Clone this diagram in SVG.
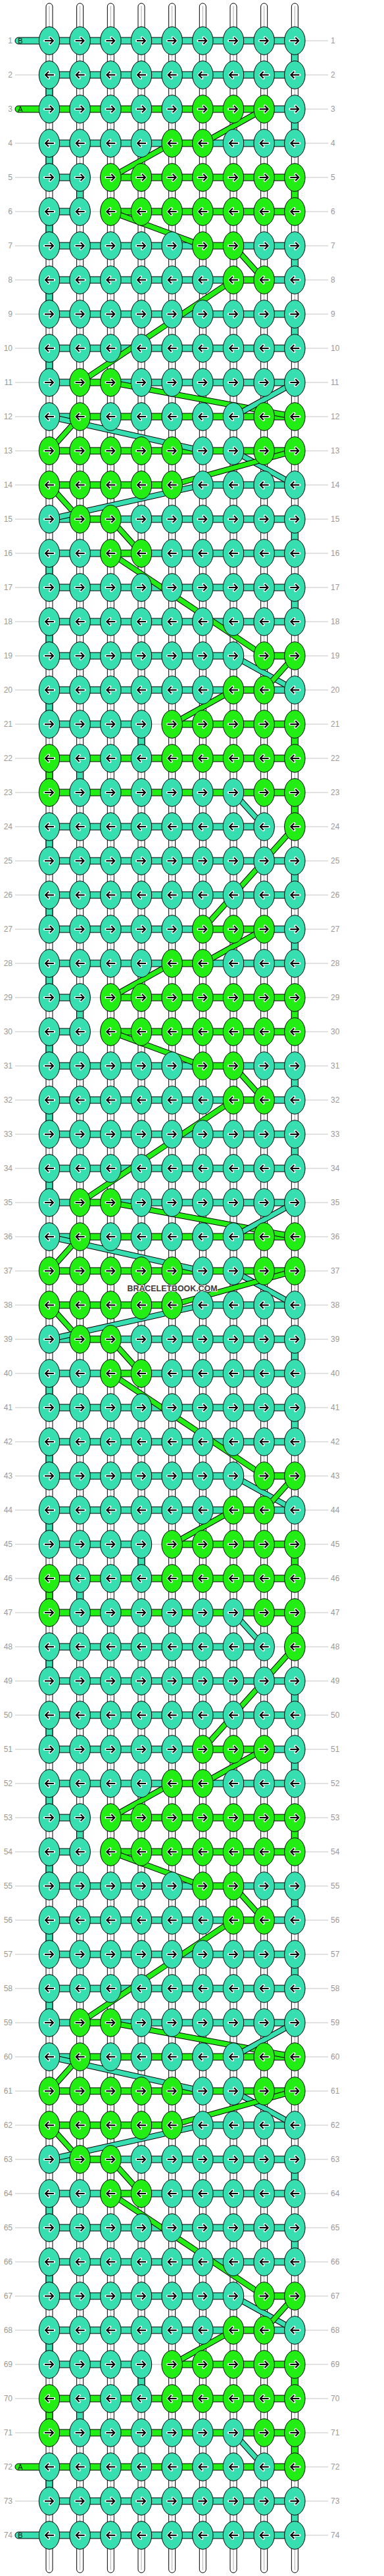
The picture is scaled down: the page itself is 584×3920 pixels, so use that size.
<svg xmlns="http://www.w3.org/2000/svg" width="584" height="3920" viewBox="0 0 584 3920">
<defs>
<style>
.n{font-family:"Liberation Sans",Arial,sans-serif;font-size:12px;fill:#999}
.e{text-anchor:end}
.gl{stroke:#c4c4c4;stroke-width:1;fill:none}
.t{fill:#36DEB0;stroke:#000;stroke-width:1}
.g{fill:#22EE14;stroke:#000;stroke-width:1}
.w{fill:#fff;stroke:#000;stroke-width:1}
.wl{stroke:#aaa;stroke-width:1;fill:none}
.bo{fill:none;stroke:#000;stroke-width:9}
.bt{fill:none;stroke:#36DEB0;stroke-width:7}
.bg{fill:none;stroke:#22EE14;stroke-width:7}
.lb{font-family:"Liberation Sans",Arial,sans-serif;font-size:11px;fill:#111;text-anchor:middle}
</style>
<g id="ar"><path d="M-7 0H5.5M1 -5L6 0L1 5" fill="none" stroke="#fff" stroke-width="4" stroke-linecap="round" stroke-linejoin="round"/><path d="M-7 0H5.5M1 -5L6 0L1 5" fill="none" stroke="#000" stroke-width="2"/></g>
<g id="al"><use href="#ar" transform="scale(-1 1)"/></g>
<g id="tr"><ellipse rx="15.7" ry="21.3" class="t"/><use href="#ar"/></g>
<g id="tl"><ellipse rx="15.7" ry="21.3" class="t"/><use href="#al"/></g>
<g id="gr"><ellipse rx="15.7" ry="21.3" class="g"/><use href="#ar"/></g>
<g id="gl"><ellipse rx="15.7" ry="21.3" class="g"/><use href="#al"/></g>
<g id="kTR"><use href="#tr" x="75"/><use href="#tr" x="121.67"/><use href="#tr" x="168.33"/><use href="#tr" x="215"/><use href="#tr" x="261.67"/><use href="#tr" x="308.33"/><use href="#tr" x="355"/><use href="#tr" x="401.67"/><use href="#tr" x="448.33"/></g>
<g id="kTL"><use href="#tl" x="75"/><use href="#tl" x="121.67"/><use href="#tl" x="168.33"/><use href="#tl" x="215"/><use href="#tl" x="261.67"/><use href="#tl" x="308.33"/><use href="#tl" x="355"/><use href="#tl" x="401.67"/><use href="#tl" x="448.33"/></g>
<g id="k3"><use href="#tr" x="75"/><use href="#tr" x="121.67"/><use href="#tr" x="168.33"/><use href="#tr" x="215"/><use href="#tr" x="261.67"/><use href="#gr" x="308.33"/><use href="#gr" x="355"/><use href="#gr" x="401.67"/><use href="#tr" x="448.33"/></g>
<g id="k4"><use href="#tl" x="75"/><use href="#tl" x="121.67"/><use href="#tl" x="168.33"/><use href="#tl" x="215"/><use href="#gl" x="261.67"/><use href="#gl" x="308.33"/><use href="#tl" x="355"/><use href="#tl" x="401.67"/><use href="#tl" x="448.33"/></g>
<g id="k5"><use href="#tr" x="75"/><use href="#tr" x="121.67"/><use href="#gr" x="168.33"/><use href="#gr" x="215"/><use href="#gr" x="261.67"/><use href="#gr" x="308.33"/><use href="#gr" x="355"/><use href="#gr" x="401.67"/><use href="#gr" x="448.33"/></g>
<g id="k6"><use href="#tl" x="75"/><use href="#tl" x="121.67"/><use href="#gl" x="168.33"/><use href="#gl" x="215"/><use href="#gl" x="261.67"/><use href="#gl" x="308.33"/><use href="#gl" x="355"/><use href="#gl" x="401.67"/><use href="#gl" x="448.33"/></g>
<g id="k7"><use href="#tr" x="75"/><use href="#tr" x="121.67"/><use href="#tr" x="168.33"/><use href="#tr" x="215"/><use href="#tr" x="261.67"/><use href="#gr" x="308.33"/><use href="#gr" x="355"/><use href="#tr" x="401.67"/><use href="#tr" x="448.33"/></g>
<g id="k8"><use href="#tl" x="75"/><use href="#tl" x="121.67"/><use href="#tl" x="168.33"/><use href="#tl" x="215"/><use href="#tl" x="261.67"/><use href="#tl" x="308.33"/><use href="#gl" x="355"/><use href="#gl" x="401.67"/><use href="#tl" x="448.33"/></g>
<g id="k11"><use href="#tr" x="75"/><use href="#gr" x="121.67"/><use href="#gr" x="168.33"/><use href="#tr" x="215"/><use href="#tr" x="261.67"/><use href="#tr" x="308.33"/><use href="#tr" x="355"/><use href="#tr" x="401.67"/><use href="#tr" x="448.33"/></g>
<g id="k12"><use href="#tl" x="75"/><use href="#gl" x="121.67"/><use href="#tl" x="168.33"/><use href="#tl" x="215"/><use href="#tl" x="261.67"/><use href="#tl" x="308.33"/><use href="#tl" x="355"/><use href="#gl" x="401.67"/><use href="#gl" x="448.33"/></g>
<g id="k13"><use href="#gr" x="75"/><use href="#gr" x="121.67"/><use href="#gr" x="168.33"/><use href="#gr" x="215"/><use href="#gr" x="261.67"/><use href="#tr" x="308.33"/><use href="#tr" x="355"/><use href="#gr" x="401.67"/><use href="#gr" x="448.33"/></g>
<g id="k14"><use href="#gl" x="75"/><use href="#gl" x="121.67"/><use href="#gl" x="168.33"/><use href="#gl" x="215"/><use href="#gl" x="261.67"/><use href="#tl" x="308.33"/><use href="#tl" x="355"/><use href="#tl" x="401.67"/><use href="#tl" x="448.33"/></g>
<g id="k16"><use href="#tl" x="75"/><use href="#tl" x="121.67"/><use href="#gl" x="168.33"/><use href="#gl" x="215"/><use href="#tl" x="261.67"/><use href="#tl" x="308.33"/><use href="#tl" x="355"/><use href="#tl" x="401.67"/><use href="#tl" x="448.33"/></g>
<g id="k19"><use href="#tr" x="75"/><use href="#tr" x="121.67"/><use href="#tr" x="168.33"/><use href="#tr" x="215"/><use href="#tr" x="261.67"/><use href="#tr" x="308.33"/><use href="#tr" x="355"/><use href="#gr" x="401.67"/><use href="#gr" x="448.33"/></g>
<g id="k21"><use href="#tr" x="75"/><use href="#tr" x="121.67"/><use href="#tr" x="168.33"/><use href="#tr" x="215"/><use href="#gr" x="261.67"/><use href="#gr" x="308.33"/><use href="#gr" x="355"/><use href="#gr" x="401.67"/><use href="#gr" x="448.33"/></g>
<g id="k22"><use href="#gl" x="75"/><use href="#tl" x="121.67"/><use href="#tl" x="168.33"/><use href="#tl" x="215"/><use href="#gl" x="261.67"/><use href="#gl" x="308.33"/><use href="#gl" x="355"/><use href="#gl" x="401.67"/><use href="#gl" x="448.33"/></g>
<g id="k23"><use href="#gr" x="75"/><use href="#tr" x="121.67"/><use href="#tr" x="168.33"/><use href="#tr" x="215"/><use href="#tr" x="261.67"/><use href="#tr" x="308.33"/><use href="#tr" x="355"/><use href="#gr" x="401.67"/><use href="#gr" x="448.33"/></g>
<g id="k24"><use href="#tl" x="75"/><use href="#tl" x="121.67"/><use href="#tl" x="168.33"/><use href="#tl" x="215"/><use href="#tl" x="261.67"/><use href="#tl" x="308.33"/><use href="#tl" x="355"/><use href="#tl" x="401.67"/><use href="#gl" x="448.33"/></g>
<g id="hT"><rect class="t" x="75" y="-5" width="373.33" height="10"/></g>
<g id="hG"><rect class="g" x="75" y="-5" width="373.33" height="10"/></g>
<g id="h3"><rect class="t" x="75" y="-5" width="233.33" height="10"/><rect class="g" x="308.33" y="-5" width="93.34" height="10"/><rect class="t" x="401.67" y="-5" width="46.66" height="10"/></g>
<g id="h4"><rect class="t" x="75" y="-5" width="186.67" height="10"/><rect class="g" x="261.67" y="-5" width="46.66" height="10"/><rect class="t" x="308.33" y="-5" width="140" height="10"/></g>
<g id="h5"><rect class="t" x="75" y="-5" width="46.67" height="10"/><rect class="g" x="168.33" y="-5" width="280" height="10"/></g>
<g id="h7"><rect class="t" x="75" y="-5" width="233.33" height="10"/><rect class="g" x="308.33" y="-5" width="46.67" height="10"/><rect class="t" x="355" y="-5" width="93.33" height="10"/></g>
<g id="h8"><rect class="t" x="75" y="-5" width="280" height="10"/><rect class="g" x="355" y="-5" width="46.67" height="10"/><rect class="t" x="401.67" y="-5" width="46.66" height="10"/></g>
<g id="h11"><rect class="t" x="75" y="-5" width="46.67" height="10"/><rect class="g" x="121.67" y="-5" width="46.66" height="10"/><rect class="t" x="168.33" y="-5" width="280" height="10"/></g>
<g id="h12"><rect class="t" x="75" y="-5" width="46.67" height="10"/><rect class="g" x="121.67" y="-5" width="326.66" height="10"/></g>
<g id="h14"><rect class="g" x="75" y="-5" width="186.67" height="10"/><rect class="t" x="308.33" y="-5" width="140" height="10"/></g>
<g id="h16"><rect class="t" x="75" y="-5" width="93.33" height="10"/><rect class="g" x="168.33" y="-5" width="46.67" height="10"/><rect class="t" x="215" y="-5" width="233.33" height="10"/></g>
<g id="h19"><rect class="t" x="75" y="-5" width="280" height="10"/><rect class="g" x="401.67" y="-5" width="46.66" height="10"/></g>
<g id="h21"><rect class="t" x="75" y="-5" width="140" height="10"/><rect class="g" x="261.67" y="-5" width="186.66" height="10"/></g>
<g id="h24"><rect class="t" x="75" y="-5" width="326.67" height="10"/></g>
</defs>
<rect width="584" height="3920" fill="#fff"/>
<path class="gl" d="M23 62H499M23 114H499M23 166H499M23 218H499M23 270H499M23 322H499M23 374H499M23 426H499M23 478H499M23 530H499M23 582H499M23 634H499M23 686H499M23 738H499M23 790H499M23 842H499M23 894H499M23 946H499M23 998H499M23 1050H499M23 1102H499M23 1154H499M23 1206H499M23 1258H499M23 1310H499M23 1362H499M23 1414H499M23 1466H499M23 1518H499M23 1570H499M23 1622H499M23 1674H499M23 1726H499M23 1778H499M23 1830H499M23 1882H499M23 1934H499M23 1986H499M23 2038H499M23 2090H499M23 2142H499M23 2194H499M23 2246H499M23 2298H499M23 2350H499M23 2402H499M23 2454H499M23 2506H499M23 2558H499M23 2610H499M23 2662H499M23 2714H499M23 2766H499M23 2818H499M23 2870H499M23 2922H499M23 2974H499M23 3026H499M23 3078H499M23 3130H499M23 3182H499M23 3234H499M23 3286H499M23 3338H499M23 3390H499M23 3442H499M23 3494H499M23 3546H499M23 3598H499M23 3650H499M23 3702H499M23 3754H499M23 3806H499M23 3858H499"/>
<g id="warps">
<rect class="w" x="70" y="5" width="10" height="3910" rx="5"/><rect class="w" x="116.67" y="5" width="10" height="3910" rx="5"/><rect class="w" x="163.33" y="5" width="10" height="3910" rx="5"/><rect class="w" x="210" y="5" width="10" height="3910" rx="5"/><rect class="w" x="256.67" y="5" width="10" height="3910" rx="5"/><rect class="w" x="303.33" y="5" width="10" height="3910" rx="5"/><rect class="w" x="350" y="5" width="10" height="3910" rx="5"/><rect class="w" x="396.67" y="5" width="10" height="3910" rx="5"/><rect class="w" x="443.33" y="5" width="10" height="3910" rx="5"/>
<path class="wl" d="M75 9V3911M121.67 9V3911M168.33 9V3911M215 9V3911M261.67 9V3911M308.33 9V3911M355 9V3911M401.67 9V3911M448.33 9V3911"/>
</g>
<g id="turns">
<rect class="t" x="443.33" y="62" width="10" height="52"/><rect class="t" x="70" y="114" width="10" height="52"/>
<rect class="t" x="443.33" y="166" width="10" height="52"/><rect class="t" x="70" y="218" width="10" height="52"/><rect class="t" x="116.67" y="270" width="10" height="52"/><rect class="g" x="443.33" y="270" width="10" height="52"/><rect class="t" x="70" y="322" width="10" height="52"/><rect class="t" x="443.33" y="374" width="10" height="52"/><rect class="t" x="70" y="426" width="10" height="52"/><rect class="t" x="443.33" y="478" width="10" height="52"/><rect class="t" x="70" y="530" width="10" height="52"/><rect class="t" x="443.33" y="790" width="10" height="52"/><rect class="t" x="70" y="842" width="10" height="52"/><rect class="t" x="443.33" y="894" width="10" height="52"/><rect class="t" x="70" y="946" width="10" height="52"/><rect class="t" x="70" y="1050" width="10" height="52"/><rect class="t" x="210" y="1102" width="10" height="52"/><rect class="g" x="443.33" y="1102" width="10" height="52"/><rect class="g" x="70" y="1154" width="10" height="52"/><rect class="t" x="116.67" y="1154" width="10" height="52"/><rect class="g" x="443.33" y="1206" width="10" height="52"/><rect class="t" x="70" y="1258" width="10" height="52"/><rect class="t" x="443.33" y="1310" width="10" height="52"/><rect class="t" x="70" y="1362" width="10" height="52"/>
<rect class="t" x="443.33" y="1414" width="10" height="52"/><rect class="t" x="70" y="1466" width="10" height="52"/><rect class="t" x="116.67" y="1518" width="10" height="52"/><rect class="g" x="443.33" y="1518" width="10" height="52"/><rect class="t" x="70" y="1570" width="10" height="52"/><rect class="t" x="443.33" y="1622" width="10" height="52"/><rect class="t" x="70" y="1674" width="10" height="52"/><rect class="t" x="443.33" y="1726" width="10" height="52"/><rect class="t" x="70" y="1778" width="10" height="52"/><rect class="t" x="443.33" y="2038" width="10" height="52"/><rect class="t" x="70" y="2090" width="10" height="52"/><rect class="t" x="443.33" y="2142" width="10" height="52"/><rect class="t" x="70" y="2194" width="10" height="52"/><rect class="t" x="70" y="2298" width="10" height="52"/><rect class="t" x="210" y="2350" width="10" height="52"/><rect class="g" x="443.33" y="2350" width="10" height="52"/><rect class="g" x="70" y="2402" width="10" height="52"/><rect class="t" x="116.67" y="2402" width="10" height="52"/><rect class="g" x="443.33" y="2454" width="10" height="52"/><rect class="t" x="70" y="2506" width="10" height="52"/><rect class="t" x="443.33" y="2558" width="10" height="52"/><rect class="t" x="70" y="2610" width="10" height="52"/>
<rect class="t" x="443.33" y="2662" width="10" height="52"/><rect class="t" x="70" y="2714" width="10" height="52"/><rect class="t" x="116.67" y="2766" width="10" height="52"/><rect class="g" x="443.33" y="2766" width="10" height="52"/><rect class="t" x="70" y="2818" width="10" height="52"/><rect class="t" x="443.33" y="2870" width="10" height="52"/><rect class="t" x="70" y="2922" width="10" height="52"/><rect class="t" x="443.33" y="2974" width="10" height="52"/><rect class="t" x="70" y="3026" width="10" height="52"/><rect class="t" x="443.33" y="3286" width="10" height="52"/><rect class="t" x="70" y="3338" width="10" height="52"/><rect class="t" x="443.33" y="3390" width="10" height="52"/><rect class="t" x="70" y="3442" width="10" height="52"/><rect class="t" x="70" y="3546" width="10" height="52"/><rect class="t" x="210" y="3598" width="10" height="52"/><rect class="g" x="443.33" y="3598" width="10" height="52"/><rect class="g" x="70" y="3650" width="10" height="52"/><rect class="t" x="116.67" y="3650" width="10" height="52"/><rect class="g" x="443.33" y="3702" width="10" height="52"/><rect class="t" x="70" y="3754" width="10" height="52"/><rect class="t" x="443.33" y="3806" width="10" height="52"/>
</g>
<g id="strands">
<rect class="t" x="23" y="57" width="425.33" height="10" rx="5"/><text class="lb" x="31" y="66">B</text>
<use href="#hT" y="114"/>
<rect class="g" x="23" y="161" width="378.67" height="10" rx="5"/><rect class="t" x="401.67" y="161" width="46.66" height="10"/><text class="lb" x="31" y="170">A</text>
<use href="#h4" y="218"/><use href="#h5" y="270"/><use href="#h5" y="322"/><use href="#h7" y="374"/><use href="#h8" y="426"/><use href="#hT" y="478"/><use href="#hT" y="530"/><use href="#h11" y="582"/><use href="#h12" y="634"/><use href="#hG" y="686"/><use href="#h14" y="738"/><use href="#h11" y="790"/><use href="#h16" y="842"/><use href="#hT" y="894"/><use href="#hT" y="946"/><use href="#h19" y="998"/><use href="#h8" y="1050"/><use href="#h21" y="1102"/><use href="#hG" y="1154"/><use href="#hG" y="1206"/><use href="#h24" y="1258"/><use href="#hT" y="1310"/><use href="#hT" y="1362"/>
<use href="#h3" y="1414"/><use href="#h4" y="1466"/><use href="#h5" y="1518"/><use href="#h5" y="1570"/><use href="#h7" y="1622"/><use href="#h8" y="1674"/><use href="#hT" y="1726"/><use href="#hT" y="1778"/><use href="#h11" y="1830"/><use href="#h12" y="1882"/><use href="#hG" y="1934"/><use href="#h14" y="1986"/><use href="#h11" y="2038"/><use href="#h16" y="2090"/><use href="#hT" y="2142"/><use href="#hT" y="2194"/><use href="#h19" y="2246"/><use href="#h8" y="2298"/><use href="#h21" y="2350"/><use href="#hG" y="2402"/><use href="#hG" y="2454"/><use href="#h24" y="2506"/><use href="#hT" y="2558"/><use href="#hT" y="2610"/>
<use href="#h3" y="2662"/><use href="#h4" y="2714"/><use href="#h5" y="2766"/><use href="#h5" y="2818"/><use href="#h7" y="2870"/><use href="#h8" y="2922"/><use href="#hT" y="2974"/><use href="#hT" y="3026"/><use href="#h11" y="3078"/><use href="#h12" y="3130"/><use href="#hG" y="3182"/><use href="#h14" y="3234"/><use href="#h11" y="3286"/><use href="#h16" y="3338"/><use href="#hT" y="3390"/><use href="#hT" y="3442"/><use href="#h19" y="3494"/><use href="#h8" y="3546"/><use href="#h21" y="3598"/><use href="#hG" y="3650"/><use href="#hG" y="3702"/>
<rect class="g" x="23" y="3749" width="425.33" height="10" rx="5"/><text class="lb" x="31" y="3758">A</text>
<use href="#hT" y="3806"/>
<rect class="t" x="23" y="3853" width="425.33" height="10" rx="5"/><text class="lb" x="31" y="3862">B</text>
</g>
<g id="connectors">
<path class="bo" d="M401.67 166L308.33 218"/><path class="bg" d="M401.67 166L308.33 218"/>
<path class="bo" d="M261.67 218L168.33 270"/><path class="bg" d="M261.67 218L168.33 270"/>
<path class="bo" d="M168.33 322L308.33 374"/><path class="bg" d="M168.33 322L308.33 374"/>
<path class="bo" d="M355 374L401.67 426"/><path class="bg" d="M355 374L401.67 426"/>
<path class="bo" d="M355 426L121.67 582"/><path class="bg" d="M355 426L121.67 582"/>
<path class="bo" d="M168.33 582L448.33 634"/><path class="bg" d="M168.33 582L448.33 634"/>
<path class="bo" d="M448.33 582L355 634"/><path class="bt" d="M448.33 582L355 634"/>
<path class="bo" d="M75 634L308.33 686"/><path class="bt" d="M75 634L308.33 686"/>
<path class="bo" d="M121.67 634L75 686"/><path class="bg" d="M121.67 634L75 686"/>
<path class="bo" d="M355 686L448.33 738"/><path class="bt" d="M355 686L448.33 738"/>
<path class="bo" d="M448.33 686L261.67 738"/><path class="bg" d="M448.33 686L261.67 738"/>
<path class="bo" d="M75 738L121.67 790"/><path class="bg" d="M75 738L121.67 790"/>
<path class="bo" d="M308.33 738L75 790"/><path class="bt" d="M308.33 738L75 790"/>
<path class="bo" d="M168.33 790L215 842"/><path class="bg" d="M168.33 790L215 842"/>
<path class="bo" d="M168.33 842L401.67 998"/><path class="bg" d="M168.33 842L401.67 998"/>
<path class="bo" d="M355 998L448.33 1050"/><path class="bt" d="M355 998L448.33 1050"/>
<path class="bo" d="M448.33 998L401.67 1050"/><path class="bg" d="M448.33 998L401.67 1050"/>
<path class="bo" d="M355 1050L261.67 1102"/><path class="bg" d="M355 1050L261.67 1102"/>
<path class="bo" d="M355 1206L401.67 1258"/><path class="bt" d="M355 1206L401.67 1258"/>
<path class="bo" d="M448.33 1258L308.33 1414"/><path class="bg" d="M448.33 1258L308.33 1414"/>
<path class="bo" d="M401.67 1414L308.33 1466"/><path class="bg" d="M401.67 1414L308.33 1466"/>
<path class="bo" d="M261.67 1466L168.33 1518"/><path class="bg" d="M261.67 1466L168.33 1518"/>
<path class="bo" d="M168.33 1570L308.33 1622"/><path class="bg" d="M168.33 1570L308.33 1622"/>
<path class="bo" d="M355 1622L401.67 1674"/><path class="bg" d="M355 1622L401.67 1674"/>
<path class="bo" d="M355 1674L121.67 1830"/><path class="bg" d="M355 1674L121.67 1830"/>
<path class="bo" d="M168.33 1830L448.33 1882"/><path class="bg" d="M168.33 1830L448.33 1882"/>
<path class="bo" d="M448.33 1830L355 1882"/><path class="bt" d="M448.33 1830L355 1882"/>
<path class="bo" d="M75 1882L308.33 1934"/><path class="bt" d="M75 1882L308.33 1934"/>
<path class="bo" d="M121.67 1882L75 1934"/><path class="bg" d="M121.67 1882L75 1934"/>
<path class="bo" d="M355 1934L448.33 1986"/><path class="bt" d="M355 1934L448.33 1986"/>
<path class="bo" d="M448.33 1934L261.67 1986"/><path class="bg" d="M448.33 1934L261.67 1986"/>
<path class="bo" d="M75 1986L121.67 2038"/><path class="bg" d="M75 1986L121.67 2038"/>
<path class="bo" d="M308.33 1986L75 2038"/><path class="bt" d="M308.33 1986L75 2038"/>
<path class="bo" d="M168.33 2038L215 2090"/><path class="bg" d="M168.33 2038L215 2090"/>
<path class="bo" d="M168.33 2090L401.67 2246"/><path class="bg" d="M168.33 2090L401.67 2246"/>
<path class="bo" d="M355 2246L448.33 2298"/><path class="bt" d="M355 2246L448.33 2298"/>
<path class="bo" d="M448.33 2246L401.67 2298"/><path class="bg" d="M448.33 2246L401.67 2298"/>
<path class="bo" d="M355 2298L261.67 2350"/><path class="bg" d="M355 2298L261.67 2350"/>
<path class="bo" d="M355 2454L401.67 2506"/><path class="bt" d="M355 2454L401.67 2506"/>
<path class="bo" d="M448.33 2506L308.33 2662"/><path class="bg" d="M448.33 2506L308.33 2662"/>
<path class="bo" d="M401.67 2662L308.33 2714"/><path class="bg" d="M401.67 2662L308.33 2714"/>
<path class="bo" d="M261.67 2714L168.33 2766"/><path class="bg" d="M261.67 2714L168.33 2766"/>
<path class="bo" d="M168.33 2818L308.33 2870"/><path class="bg" d="M168.33 2818L308.33 2870"/>
<path class="bo" d="M355 2870L401.67 2922"/><path class="bg" d="M355 2870L401.67 2922"/>
<path class="bo" d="M355 2922L121.67 3078"/><path class="bg" d="M355 2922L121.67 3078"/>
<path class="bo" d="M168.33 3078L448.33 3130"/><path class="bg" d="M168.33 3078L448.33 3130"/>
<path class="bo" d="M448.33 3078L355 3130"/><path class="bt" d="M448.33 3078L355 3130"/>
<path class="bo" d="M75 3130L308.33 3182"/><path class="bt" d="M75 3130L308.33 3182"/>
<path class="bo" d="M121.67 3130L75 3182"/><path class="bg" d="M121.67 3130L75 3182"/>
<path class="bo" d="M355 3182L448.33 3234"/><path class="bt" d="M355 3182L448.33 3234"/>
<path class="bo" d="M448.33 3182L261.67 3234"/><path class="bg" d="M448.33 3182L261.67 3234"/>
<path class="bo" d="M75 3234L121.67 3286"/><path class="bg" d="M75 3234L121.67 3286"/>
<path class="bo" d="M308.33 3234L75 3286"/><path class="bt" d="M308.33 3234L75 3286"/>
<path class="bo" d="M168.33 3286L215 3338"/><path class="bg" d="M168.33 3286L215 3338"/>
<path class="bo" d="M168.33 3338L401.67 3494"/><path class="bg" d="M168.33 3338L401.67 3494"/>
<path class="bo" d="M355 3494L448.33 3546"/><path class="bt" d="M355 3494L448.33 3546"/>
<path class="bo" d="M448.33 3494L401.67 3546"/><path class="bg" d="M448.33 3494L401.67 3546"/>
<path class="bo" d="M355 3546L261.67 3598"/><path class="bg" d="M355 3546L261.67 3598"/>
<path class="bo" d="M355 3702L401.67 3754"/><path class="bt" d="M355 3702L401.67 3754"/>
</g>
<g id="knots">
<g id="row-1" transform="translate(0,62)"><text class="n e" x="19" y="4.3">1</text><text class="n" x="503" y="4.3">1</text><use href="#kTR"/></g>
<g id="row-2" transform="translate(0,114)"><text class="n e" x="19" y="4.3">2</text><text class="n" x="503" y="4.3">2</text><use href="#kTL"/></g>
<g id="row-3" transform="translate(0,166)"><text class="n e" x="19" y="4.3">3</text><text class="n" x="503" y="4.3">3</text><use href="#k3"/></g>
<g id="row-4" transform="translate(0,218)"><text class="n e" x="19" y="4.3">4</text><text class="n" x="503" y="4.3">4</text><use href="#k4"/></g>
<g id="row-5" transform="translate(0,270)"><text class="n e" x="19" y="4.3">5</text><text class="n" x="503" y="4.3">5</text><use href="#k5"/></g>
<g id="row-6" transform="translate(0,322)"><text class="n e" x="19" y="4.3">6</text><text class="n" x="503" y="4.3">6</text><use href="#k6"/></g>
<g id="row-7" transform="translate(0,374)"><text class="n e" x="19" y="4.3">7</text><text class="n" x="503" y="4.3">7</text><use href="#k7"/></g>
<g id="row-8" transform="translate(0,426)"><text class="n e" x="19" y="4.3">8</text><text class="n" x="503" y="4.3">8</text><use href="#k8"/></g>
<g id="row-9" transform="translate(0,478)"><text class="n e" x="19" y="4.3">9</text><text class="n" x="503" y="4.3">9</text><use href="#kTR"/></g>
<g id="row-10" transform="translate(0,530)"><text class="n e" x="19" y="4.3">10</text><text class="n" x="503" y="4.3">10</text><use href="#kTL"/></g>
<g id="row-11" transform="translate(0,582)"><text class="n e" x="19" y="4.3">11</text><text class="n" x="503" y="4.3">11</text><use href="#k11"/></g>
<g id="row-12" transform="translate(0,634)"><text class="n e" x="19" y="4.3">12</text><text class="n" x="503" y="4.3">12</text><use href="#k12"/></g>
<g id="row-13" transform="translate(0,686)"><text class="n e" x="19" y="4.3">13</text><text class="n" x="503" y="4.3">13</text><use href="#k13"/></g>
<g id="row-14" transform="translate(0,738)"><text class="n e" x="19" y="4.3">14</text><text class="n" x="503" y="4.3">14</text><use href="#k14"/></g>
<g id="row-15" transform="translate(0,790)"><text class="n e" x="19" y="4.3">15</text><text class="n" x="503" y="4.3">15</text><use href="#k11"/></g>
<g id="row-16" transform="translate(0,842)"><text class="n e" x="19" y="4.3">16</text><text class="n" x="503" y="4.3">16</text><use href="#k16"/></g>
<g id="row-17" transform="translate(0,894)"><text class="n e" x="19" y="4.3">17</text><text class="n" x="503" y="4.3">17</text><use href="#kTR"/></g>
<g id="row-18" transform="translate(0,946)"><text class="n e" x="19" y="4.3">18</text><text class="n" x="503" y="4.3">18</text><use href="#kTL"/></g>
<g id="row-19" transform="translate(0,998)"><text class="n e" x="19" y="4.3">19</text><text class="n" x="503" y="4.3">19</text><use href="#k19"/></g>
<g id="row-20" transform="translate(0,1050)"><text class="n e" x="19" y="4.3">20</text><text class="n" x="503" y="4.3">20</text><use href="#k8"/></g>
<g id="row-21" transform="translate(0,1102)"><text class="n e" x="19" y="4.3">21</text><text class="n" x="503" y="4.3">21</text><use href="#k21"/></g>
<g id="row-22" transform="translate(0,1154)"><text class="n e" x="19" y="4.3">22</text><text class="n" x="503" y="4.3">22</text><use href="#k22"/></g>
<g id="row-23" transform="translate(0,1206)"><text class="n e" x="19" y="4.3">23</text><text class="n" x="503" y="4.3">23</text><use href="#k23"/></g>
<g id="row-24" transform="translate(0,1258)"><text class="n e" x="19" y="4.3">24</text><text class="n" x="503" y="4.3">24</text><use href="#k24"/></g>
<g id="row-25" transform="translate(0,1310)"><text class="n e" x="19" y="4.3">25</text><text class="n" x="503" y="4.3">25</text><use href="#kTR"/></g>
<g id="row-26" transform="translate(0,1362)"><text class="n e" x="19" y="4.3">26</text><text class="n" x="503" y="4.3">26</text><use href="#kTL"/></g>
<g id="row-27" transform="translate(0,1414)"><text class="n e" x="19" y="4.3">27</text><text class="n" x="503" y="4.3">27</text><use href="#k3"/></g>
<g id="row-28" transform="translate(0,1466)"><text class="n e" x="19" y="4.3">28</text><text class="n" x="503" y="4.3">28</text><use href="#k4"/></g>
<g id="row-29" transform="translate(0,1518)"><text class="n e" x="19" y="4.3">29</text><text class="n" x="503" y="4.3">29</text><use href="#k5"/></g>
<g id="row-30" transform="translate(0,1570)"><text class="n e" x="19" y="4.3">30</text><text class="n" x="503" y="4.3">30</text><use href="#k6"/></g>
<g id="row-31" transform="translate(0,1622)"><text class="n e" x="19" y="4.3">31</text><text class="n" x="503" y="4.3">31</text><use href="#k7"/></g>
<g id="row-32" transform="translate(0,1674)"><text class="n e" x="19" y="4.3">32</text><text class="n" x="503" y="4.3">32</text><use href="#k8"/></g>
<g id="row-33" transform="translate(0,1726)"><text class="n e" x="19" y="4.3">33</text><text class="n" x="503" y="4.3">33</text><use href="#kTR"/></g>
<g id="row-34" transform="translate(0,1778)"><text class="n e" x="19" y="4.3">34</text><text class="n" x="503" y="4.3">34</text><use href="#kTL"/></g>
<g id="row-35" transform="translate(0,1830)"><text class="n e" x="19" y="4.3">35</text><text class="n" x="503" y="4.3">35</text><use href="#k11"/></g>
<g id="row-36" transform="translate(0,1882)"><text class="n e" x="19" y="4.3">36</text><text class="n" x="503" y="4.3">36</text><use href="#k12"/></g>
<g id="row-37" transform="translate(0,1934)"><text class="n e" x="19" y="4.3">37</text><text class="n" x="503" y="4.3">37</text><use href="#k13"/></g>
<g id="row-38" transform="translate(0,1986)"><text class="n e" x="19" y="4.3">38</text><text class="n" x="503" y="4.3">38</text><use href="#k14"/></g>
<g id="row-39" transform="translate(0,2038)"><text class="n e" x="19" y="4.3">39</text><text class="n" x="503" y="4.3">39</text><use href="#k11"/></g>
<g id="row-40" transform="translate(0,2090)"><text class="n e" x="19" y="4.3">40</text><text class="n" x="503" y="4.3">40</text><use href="#k16"/></g>
<g id="row-41" transform="translate(0,2142)"><text class="n e" x="19" y="4.3">41</text><text class="n" x="503" y="4.3">41</text><use href="#kTR"/></g>
<g id="row-42" transform="translate(0,2194)"><text class="n e" x="19" y="4.3">42</text><text class="n" x="503" y="4.3">42</text><use href="#kTL"/></g>
<g id="row-43" transform="translate(0,2246)"><text class="n e" x="19" y="4.3">43</text><text class="n" x="503" y="4.3">43</text><use href="#k19"/></g>
<g id="row-44" transform="translate(0,2298)"><text class="n e" x="19" y="4.3">44</text><text class="n" x="503" y="4.3">44</text><use href="#k8"/></g>
<g id="row-45" transform="translate(0,2350)"><text class="n e" x="19" y="4.3">45</text><text class="n" x="503" y="4.3">45</text><use href="#k21"/></g>
<g id="row-46" transform="translate(0,2402)"><text class="n e" x="19" y="4.3">46</text><text class="n" x="503" y="4.3">46</text><use href="#k22"/></g>
<g id="row-47" transform="translate(0,2454)"><text class="n e" x="19" y="4.3">47</text><text class="n" x="503" y="4.3">47</text><use href="#k23"/></g>
<g id="row-48" transform="translate(0,2506)"><text class="n e" x="19" y="4.3">48</text><text class="n" x="503" y="4.3">48</text><use href="#k24"/></g>
<g id="row-49" transform="translate(0,2558)"><text class="n e" x="19" y="4.3">49</text><text class="n" x="503" y="4.3">49</text><use href="#kTR"/></g>
<g id="row-50" transform="translate(0,2610)"><text class="n e" x="19" y="4.3">50</text><text class="n" x="503" y="4.3">50</text><use href="#kTL"/></g>
<g id="row-51" transform="translate(0,2662)"><text class="n e" x="19" y="4.3">51</text><text class="n" x="503" y="4.3">51</text><use href="#k3"/></g>
<g id="row-52" transform="translate(0,2714)"><text class="n e" x="19" y="4.3">52</text><text class="n" x="503" y="4.3">52</text><use href="#k4"/></g>
<g id="row-53" transform="translate(0,2766)"><text class="n e" x="19" y="4.3">53</text><text class="n" x="503" y="4.3">53</text><use href="#k5"/></g>
<g id="row-54" transform="translate(0,2818)"><text class="n e" x="19" y="4.3">54</text><text class="n" x="503" y="4.3">54</text><use href="#k6"/></g>
<g id="row-55" transform="translate(0,2870)"><text class="n e" x="19" y="4.3">55</text><text class="n" x="503" y="4.3">55</text><use href="#k7"/></g>
<g id="row-56" transform="translate(0,2922)"><text class="n e" x="19" y="4.3">56</text><text class="n" x="503" y="4.3">56</text><use href="#k8"/></g>
<g id="row-57" transform="translate(0,2974)"><text class="n e" x="19" y="4.3">57</text><text class="n" x="503" y="4.3">57</text><use href="#kTR"/></g>
<g id="row-58" transform="translate(0,3026)"><text class="n e" x="19" y="4.3">58</text><text class="n" x="503" y="4.3">58</text><use href="#kTL"/></g>
<g id="row-59" transform="translate(0,3078)"><text class="n e" x="19" y="4.3">59</text><text class="n" x="503" y="4.3">59</text><use href="#k11"/></g>
<g id="row-60" transform="translate(0,3130)"><text class="n e" x="19" y="4.3">60</text><text class="n" x="503" y="4.3">60</text><use href="#k12"/></g>
<g id="row-61" transform="translate(0,3182)"><text class="n e" x="19" y="4.3">61</text><text class="n" x="503" y="4.3">61</text><use href="#k13"/></g>
<g id="row-62" transform="translate(0,3234)"><text class="n e" x="19" y="4.3">62</text><text class="n" x="503" y="4.3">62</text><use href="#k14"/></g>
<g id="row-63" transform="translate(0,3286)"><text class="n e" x="19" y="4.3">63</text><text class="n" x="503" y="4.3">63</text><use href="#k11"/></g>
<g id="row-64" transform="translate(0,3338)"><text class="n e" x="19" y="4.3">64</text><text class="n" x="503" y="4.3">64</text><use href="#k16"/></g>
<g id="row-65" transform="translate(0,3390)"><text class="n e" x="19" y="4.3">65</text><text class="n" x="503" y="4.3">65</text><use href="#kTR"/></g>
<g id="row-66" transform="translate(0,3442)"><text class="n e" x="19" y="4.3">66</text><text class="n" x="503" y="4.3">66</text><use href="#kTL"/></g>
<g id="row-67" transform="translate(0,3494)"><text class="n e" x="19" y="4.3">67</text><text class="n" x="503" y="4.3">67</text><use href="#k19"/></g>
<g id="row-68" transform="translate(0,3546)"><text class="n e" x="19" y="4.3">68</text><text class="n" x="503" y="4.3">68</text><use href="#k8"/></g>
<g id="row-69" transform="translate(0,3598)"><text class="n e" x="19" y="4.3">69</text><text class="n" x="503" y="4.3">69</text><use href="#k21"/></g>
<g id="row-70" transform="translate(0,3650)"><text class="n e" x="19" y="4.3">70</text><text class="n" x="503" y="4.3">70</text><use href="#k22"/></g>
<g id="row-71" transform="translate(0,3702)"><text class="n e" x="19" y="4.3">71</text><text class="n" x="503" y="4.3">71</text><use href="#k23"/></g>
<g id="row-72" transform="translate(0,3754)"><text class="n e" x="19" y="4.3">72</text><text class="n" x="503" y="4.3">72</text><use href="#k24"/></g>
<g id="row-73" transform="translate(0,3806)"><text class="n e" x="19" y="4.3">73</text><text class="n" x="503" y="4.3">73</text><use href="#kTR"/></g>
<g id="row-74" transform="translate(0,3858)"><text class="n e" x="19" y="4.3">74</text><text class="n" x="503" y="4.3">74</text><use href="#kTL"/></g>
</g>
<text x="262" y="1965" font-family="Liberation Sans, Arial, sans-serif" font-weight="bold" font-size="13" fill="#3c3c3c" stroke="#fff" stroke-width="1.5" paint-order="stroke" text-anchor="middle" textLength="137" lengthAdjust="spacingAndGlyphs">BRACELETBOOK.COM</text>
</svg>
